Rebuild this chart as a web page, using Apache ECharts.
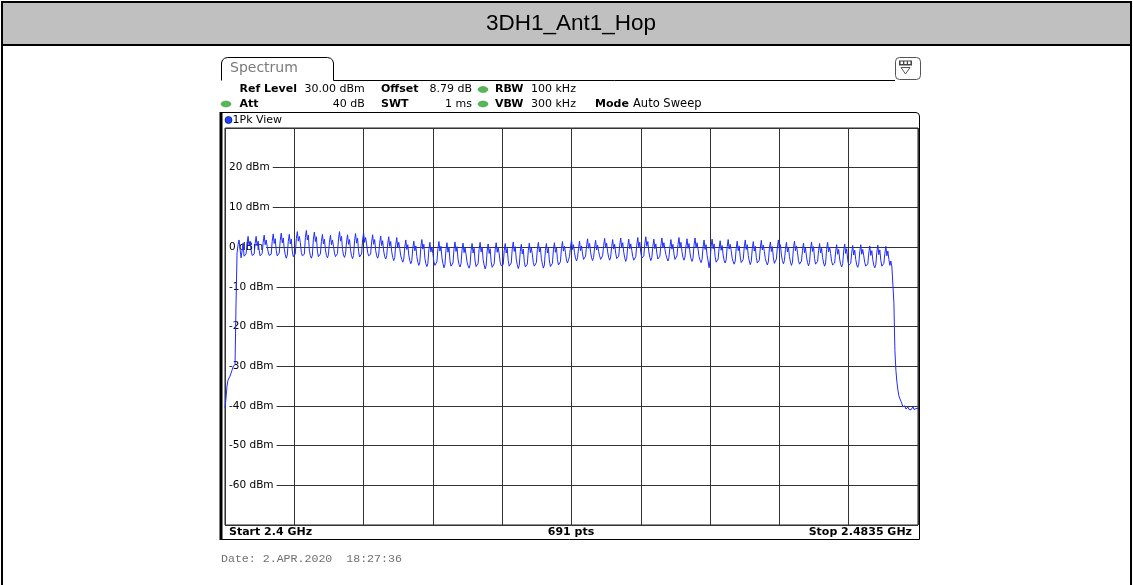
<!DOCTYPE html>
<html>
<head>
<meta charset="utf-8">
<title>3DH1_Ant1_Hop</title>
<script src="https://cdn.jsdelivr.net/npm/echarts@6/dist/echarts.min.js"></script>
<style>
  html, body { margin: 0; padding: 0; background: #fff; }
  #chart { width: 1133px; height: 585px; }
</style>
</head>
<body>
<div id="chart"></div>
<script>
// chart text / settings
const chartTitle = '3DH1_Ant1_Hop';
const startGHz = 2.4;
const stopGHz = 2.4835;
const sweepPoints = 691;
const levelMin = -70;
const levelMax = 30;
const levelStep = 10;
const levelLabels = ['20 dBm', '10 dBm', '0 dBm', '-10 dBm', '-20 dBm', '-30 dBm', '-40 dBm', '-50 dBm', '-60 dBm'];
const settingsRow1 = [['Ref Level', '30.00 dBm'], ['Offset', '8.79 dB'], ['RBW', '100 kHz']];
const settingsRow2 = [['Att', '40 dB'], ['SWT', '1 ms'], ['VBW', '300 kHz'], ['Mode', 'Auto Sweep']];
const traceName = '1Pk View';
const dateText = 'Date: 2.APR.2020  18:27:36';

// trace 1, dBm per sweep point
const trace = [
  -40.5, -38, -35, -33.5, -33, -32.5, -31.8, -31, -30.2, -30.6, -29.5, -14,
  -1.5, 0.6, 1.8, -0.6, -2.7, -1.0, 1.0, -2.3,
  -2.5, -1.7, 0.9, 2.7, 0.3, 1.5, -0.7, -2.1,
  -2.6, -1.8, 0.9, 2.7, 0.3, 1.5, -0.8, -2.2,
  -2.4, -1.6, 1.2, 3.0, 0.6, 1.8, 0.2, -1.2, -2.1,
  -2.6, -1.8, 1.5, 3.3, 0.9, 2.1, -0.8, -2.2,
  -2.3, -1.5, 1.7, 3.5, 1.1, 2.3, -0.5, -1.9,
  -2.8, -2.0, 1.4, 3.2, 0.8, 2.0, -1.0, -2.4,
  -2.5, -1.7, 2.1, 3.9, 1.5, 2.7, 1.1, -1.3, -2.2,
  -2.6, -1.8, 2.4, 4.2, 1.8, 3.0, -0.8, -2.2,
  -2.8, -2.0, 2.0, 3.8, 1.4, 2.6, -1.0, -2.4,
  -2.5, -1.7, 1.4, 3.2, 0.8, 2.0, -0.7, -2.1,
  -2.7, -1.9, 1.2, 3.0, 0.6, 1.8, 0.2, -1.5, -2.4,
  -2.4, -1.6, 2.1, 3.9, 1.5, 2.7, -0.6, -2.0,
  -2.6, -1.8, 1.3, 3.1, 0.7, 1.9, -0.8, -2.2,
  -2.9, -2.1, 1.6, 3.4, 1.0, 2.2, -1.1, -2.5,
  -2.5, -1.7, 1.8, 3.6, 1.2, 2.4, 0.8, -1.3, -2.2,
  -2.6, -1.8, 1.3, 3.1, 0.7, 1.9, -0.8, -2.2,
  -2.8, -2.0, 1.0, 2.8, 0.4, 1.6, -1.0, -2.4,
  -3.0, -2.2, 0.8, 2.6, 0.2, 1.4, -1.2, -2.6,
  -3.4, -2.6, 0.6, 2.4, 0.0, 1.2, -0.4, -2.2, -3.1,
  -3.8, -3.0, 0.0, 1.8, -0.6, 0.6, -2.0, -3.4,
  -4.2, -3.4, -0.3, 1.5, -0.9, 0.3, -2.4, -3.8,
  -4.6, -3.8, 0.1, 1.9, -0.5, 0.7, -2.8, -4.2,
  -4.9, -4.1, -0.6, 1.2, -1.2, 0.0, -1.6, -3.7, -4.6,
  -4.5, -3.7, -0.4, 1.4, -1.0, 0.2, -2.7, -4.1,
  -5.2, -4.4, -0.7, 1.1, -1.3, -0.1, -3.4, -4.8,
  -4.8, -4.0, -0.5, 1.3, -1.1, 0.1, -3.0, -4.4,
  -5.0, -4.2, -0.8, 1.0, -1.4, -0.2, -1.8, -3.8, -4.7,
  -5.3, -4.5, -0.9, 0.9, -1.5, -0.3, -3.5, -4.9,
  -4.9, -4.1, -0.6, 1.2, -1.2, 0.0, -3.1, -4.5,
  -5.5, -4.7, -1.0, 0.8, -1.6, -0.4, -3.7, -5.1,
  -5.0, -4.2, -0.7, 1.1, -1.3, -0.1, -1.7, -3.8, -4.7,
  -5.2, -4.4, -0.9, 0.9, -1.5, -0.3, -3.4, -4.8,
  -4.8, -4.0, -0.5, 1.3, -1.1, 0.1, -3.0, -4.4,
  -5.4, -4.6, -1.1, 0.7, -1.7, -0.5, -3.6, -5.0,
  -5.1, -4.3, -0.8, 1.0, -1.4, -0.2, -1.8, -3.9, -4.8,
  -4.7, -3.9, -0.6, 1.2, -1.2, 0.0, -2.9, -4.3,
  -5.3, -4.5, -0.9, 0.9, -1.5, -0.3, -3.5, -4.9,
  -4.9, -4.1, -0.7, 1.1, -1.3, -0.1, -3.1, -4.5,
  -4.5, -3.7, -0.4, 1.4, -1.0, 0.2, -1.4, -3.3, -4.0,
  -3.2, -2.4, 0.0, 1.8, -0.6, 0.6, -1.4, -2.8,
  -3.5, -2.7, -0.3, 1.5, -0.9, 0.3, -1.7, -3.1,
  -3.1, -2.3, 0.3, 2.1, -0.3, 0.9, -1.3, -2.7,
  -3.4, -2.6, -0.1, 1.7, -0.7, 0.5, -1.1, -2.2, -3.1,
  -3.0, -2.2, 0.4, 2.2, -0.2, 1.0, -1.2, -2.6,
  -3.3, -2.5, 0.1, 1.9, -0.5, 0.7, -1.5, -2.9,
  -3.1, -2.3, 0.5, 2.3, -0.1, 1.1, -1.3, -2.7,
  -3.6, -2.8, 0.2, 2.0, -0.4, 0.8, -0.8, -2.4, -3.3,
  -3.2, -2.4, 0.6, 2.4, 0.0, 1.2, -1.4, -2.8,
  -3.0, -2.2, 0.8, 2.6, 0.2, 1.4, -1.2, -2.6,
  -3.4, -2.6, 0.2, 2.0, -0.4, 0.8, -1.6, -3.0,
  -3.1, -2.3, 0.5, 2.3, -0.1, 1.1, -0.5, -1.9, -2.8,
  -3.5, -2.7, 0.1, 1.9, -0.5, 0.7, -1.7, -3.1,
  -3.0, -2.2, 0.6, 2.4, 0.0, 1.2, -1.2, -2.6,
  -3.3, -2.5, 0.3, 2.1, -0.3, 0.9, -1.5, -2.9,
  -3.6, -2.8, 0.5, 2.3, -0.1, 1.1, -0.5, -2.4, -3.3,
  -3.9, -3.1, 0.0, 1.8, -0.6, 0.6, -2.1, -3.5,
  -5.2, -3.4, 0.2, 2.0, -0.4, 0.8, -2.4, -3.8,
  -3.8, -3.0, -0.2, 1.6, -0.8, 0.4, -2.0, -3.4,
  -4.0, -3.2, 0.1, 1.9, -0.5, 0.7, -0.9, -2.8, -3.7,
  -4.3, -3.5, -0.3, 1.5, -0.9, 0.3, -2.5, -3.9,
  -3.9, -3.1, 0.0, 1.8, -0.6, 0.6, -2.1, -3.5,
  -4.4, -3.6, -0.4, 1.4, -1.0, 0.2, -2.6, -4.0,
  -4.1, -3.3, -0.1, 1.7, -0.7, 0.5, -1.1, -2.9, -3.8,
  -4.5, -3.7, -0.5, 1.3, -1.1, 0.1, -2.7, -4.1,
  -3.8, -3.0, 0.0, 1.8, -0.6, 0.6, -2.0, -3.4,
  -4.2, -3.4, -0.6, 1.2, -1.2, 0.0, -2.4, -3.8,
  -4.6, -3.8, -0.3, 1.5, -0.9, 0.3, -1.3, -3.4, -4.3,
  -4.3, -3.5, -0.8, 1.0, -1.4, -0.2, -2.5, -3.9,
  -4.7, -3.9, -0.5, 1.3, -1.1, 0.1, -2.9, -4.3,
  -4.4, -3.6, -0.9, 0.9, -1.5, -0.3, -2.6, -4.0,
  -4.8, -4.0, -0.6, 1.2, -1.2, 0.0, -1.6, -3.6, -4.5,
  -4.8, -4.0, -1.2, 0.6, -1.8, -0.6, -3.0, -4.4,
  -5.0, -4.2, -1.0, 0.8, -1.6, -0.4, -3.2, -4.6,
  -4.9, -4.1, -1.4, 0.4, -2.0, -0.8, -3.1, -4.5,
  -5.1, -4.3, -1.2, 0.6, -1.8, -0.6, -2.2, -3.9, -4.8,
  -5.0, -4.2, -1.5, 0.3, -2.1, -0.9, -3.2, -4.6,
  -5.2, -4.4, -1.3, 0.5, -1.9, -0.7, -3.4, -4.8,
  -4.9, -4.1, -1.6, 0.2, -2.2, -1.0, -3.1, -4.6,
  -3.5, -5.0, -5.2, -14, -26, -31, -34, -36, -37.5, -38.2, -38.8, -39.5, -40.2, -40.6,
  -40, -40.8, -41, -40.3, -40.9, -40.4, -41, -40.6, -40.2, -40.9, -40.5, -40.7, -40.3, -40.6
];

const spanKHz = Math.round((stopGHz - startGHz) * 1e6);
const points = trace.map((v, i) => [i * spanKHz / (sweepPoints - 1), v]);

const chart = echarts.init(document.getElementById('chart'), null, { renderer: 'canvas' });

const baseFont = '"DejaVu Sans", Verdana, sans-serif';

function txt(x, y, text, opts) {
  opts = opts || {};
  const al = opts.align || 'left';
  return {
    type: 'text', x: x, y: y, silent: true, z: 10,
    style: {
      text: text,
      fill: opts.color || '#000',
      fontSize: opts.size || 11,
      fontWeight: opts.bold ? 'bold' : 'normal',
      fontFamily: opts.family || baseFont,
      align: al, textAlign: al,
      verticalAlign: 'middle', textVerticalAlign: 'middle'
    }
  };
}

function greenDot(x, y) {
  return { type: 'ellipse', silent: true, z: 10, shape: { cx: x, cy: y, rx: 5, ry: 3 },
    style: { fill: '#55b855', stroke: '#3a8f3a', lineWidth: 0.5 } };
}

function stroke(points, width) {
  return { type: 'polyline', silent: true, shape: { points: points },
    style: { fill: null, stroke: '#000', lineWidth: width || 1 } };
}

const graphics = [
  // page frame + title row
  { type: 'rect', silent: true, shape: { x: 3, y: 3, width: 1127, height: 41 }, style: { fill: '#c0c0c0' } },
  { type: 'rect', silent: true, shape: { x: 2, y: 2, width: 1129, height: 700 }, style: { fill: null, stroke: '#000', lineWidth: 2 } },
  { type: 'line', silent: true, shape: { x1: 2, y1: 45, x2: 1131, y2: 45 }, style: { stroke: '#000', lineWidth: 2 } },
  txt(571, 24, chartTitle, { size: 22.5, family: '"Liberation Sans", Arial, sans-serif', align: 'center' }),

  // Spectrum tab
  stroke([[221.5, 80.5], [221.5, 63], [222.5, 60], [224.5, 58.3], [227.5, 57.5], [327.5, 57.5], [330.5, 58.3],
          [332.5, 60], [333.5, 63], [333.5, 80.5], [895, 80.5]]),
  txt(230, 68.5, 'Spectrum', { size: 14, color: '#7a7a7a' }),

  // icon top right
  { type: 'rect', silent: true, shape: { x: 895.5, y: 57.5, width: 25, height: 22, r: 4 }, style: { fill: '#fff', stroke: '#555', lineWidth: 1 } },
  { type: 'rect', silent: true, shape: { x: 899, y: 60.5, width: 13, height: 5 }, style: { fill: '#444' } },
  { type: 'rect', silent: true, shape: { x: 900.5, y: 61.5, width: 2.5, height: 2.5 }, style: { fill: '#fff' } },
  { type: 'rect', silent: true, shape: { x: 904.3, y: 61.5, width: 2.5, height: 2.5 }, style: { fill: '#fff' } },
  { type: 'rect', silent: true, shape: { x: 908, y: 61.5, width: 2.5, height: 2.5 }, style: { fill: '#fff' } },
  { type: 'polygon', silent: true, shape: { points: [[901, 67.5], [910, 67.5], [905.5, 74]] }, style: { fill: '#fff', stroke: '#555', lineWidth: 1 } },

  // settings rows
  txt(239.5, 89.5, settingsRow1[0][0], { bold: true }),
  txt(364.7, 89.5, settingsRow1[0][1], { align: 'right' }),
  txt(381, 89.5, settingsRow1[1][0], { bold: true }),
  txt(472, 89.5, settingsRow1[1][1], { align: 'right' }),
  greenDot(483, 89.5),
  txt(495, 89.5, settingsRow1[2][0], { bold: true }),
  txt(531, 89.5, settingsRow1[2][1]),

  greenDot(226, 104),
  txt(239.5, 104, settingsRow2[0][0], { bold: true }),
  txt(364.7, 104, settingsRow2[0][1], { align: 'right' }),
  txt(381, 104, settingsRow2[1][0], { bold: true }),
  txt(472, 104, settingsRow2[1][1], { align: 'right' }),
  greenDot(483, 104),
  txt(495, 104, settingsRow2[2][0], { bold: true }),
  txt(531, 104, settingsRow2[2][1]),
  txt(595, 104, settingsRow2[3][0], { bold: true }),
  txt(633, 104, settingsRow2[3][1], { size: 11.5 }),

  // plot frame
  stroke([[222, 112.5], [916, 112.5], [918.5, 113.5], [919.5, 116], [919.5, 539.5], [220, 539.5]]),
  { type: 'line', silent: true, shape: { x1: 221, y1: 112, x2: 221, y2: 540 }, style: { stroke: '#000', lineWidth: 3 } },
  { type: 'circle', silent: true, z: 10, shape: { cx: 228.5, cy: 120, r: 3.5 }, style: { fill: '#2040ff', stroke: '#001070', lineWidth: 0.7 } },
  txt(232.5, 120, traceName),

  // bottom bar
  txt(229, 532, 'Start ' + startGHz + ' GHz', { bold: true }),
  txt(571, 532, sweepPoints + ' pts', { bold: true, align: 'center' }),
  txt(912, 532, 'Stop ' + stopGHz + ' GHz', { bold: true, align: 'right' }),

  txt(221, 559, dateText, { size: 11.6, color: '#707070', family: '"Liberation Mono", "DejaVu Sans Mono", monospace' })
];

const gridLine = { show: true, lineStyle: { color: '#333', width: 1, type: 'solid' } };

chart.setOption({
  animation: false,
  backgroundColor: '#fff',
  grid: {
    left: 225, right: 215, top: 128, bottom: 60,
    show: true, borderColor: '#222', borderWidth: 1, backgroundColor: 'transparent',
    containLabel: false, outerBoundsMode: 'none'
  },
  xAxis: {
    type: 'value', min: 0, max: spanKHz, interval: spanKHz / 10,
    axisLine: { show: false }, axisTick: { show: false }, axisLabel: { show: false },
    splitLine: gridLine
  },
  yAxis: {
    type: 'value', min: levelMin, max: levelMax, interval: levelStep,
    axisLine: { show: false }, axisTick: { show: false },
    splitLine: gridLine,
    axisLabel: {
      inside: true, margin: 1, showMinLabel: false, showMaxLabel: false,
      color: '#000', fontSize: 10.5, fontFamily: baseFont,
      backgroundColor: '#fff', padding: [1, 3, 1, 3],
      formatter: function (v) {
        const idx = Math.round((levelMax - levelStep - v) / levelStep);
        return (idx >= 0 && idx < levelLabels.length) ? levelLabels[idx] : '';
      }
    }
  },
  graphic: graphics,
  series: [{
    name: 'Trace 1',
    type: 'line',
    data: points,
    symbol: 'none',
    silent: true,
    clip: true,
    lineStyle: { color: '#1e2cff', width: 1 }
  }]
});
</script>
</body>
</html>
